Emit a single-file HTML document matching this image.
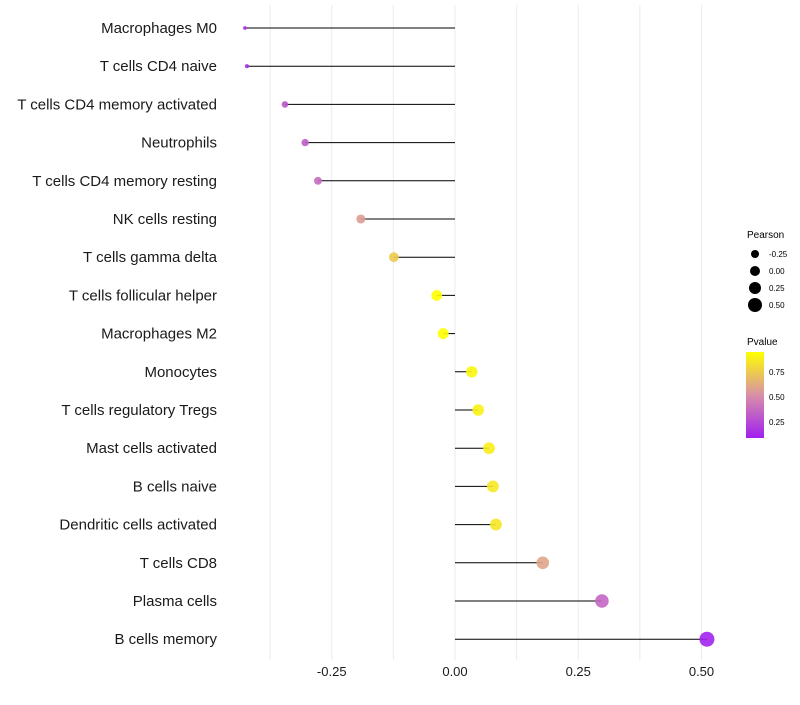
<!DOCTYPE html>
<html><head><meta charset="utf-8"><style>
body{margin:0;background:#fff;font-family:"Liberation Sans",sans-serif}
svg text{font-family:"Liberation Sans",sans-serif}
</style></head><body>
<svg id="chart" width="800" height="700" xmlns="http://www.w3.org/2000/svg">
<defs><linearGradient id="pg" x1="0" y1="1" x2="0" y2="0">
<stop offset="0" stop-color="#a020f0"/><stop offset="0.5" stop-color="#d890a8"/><stop offset="1" stop-color="#ffff00"/></linearGradient></defs>
<g id="grid"></g>
<g id="marks"></g>
<g id="ylabels"></g>
<g id="xlabels"></g>
<g>
<text x="747" y="238" font-size="10" fill="#000">Pearson</text>
<circle cx="755" cy="254" r="4" fill="#000"/><text x="769" y="257" font-size="8">-0.25</text>
<circle cx="755" cy="271" r="5" fill="#000"/><text x="769" y="274" font-size="8">0.00</text>
<circle cx="755" cy="288" r="6" fill="#000"/><text x="769" y="291" font-size="8">0.25</text>
<circle cx="755" cy="305" r="7" fill="#000"/><text x="769" y="308" font-size="8">0.50</text>
</g>
<g>
<text x="747" y="345" font-size="10">Pvalue</text>
<rect x="746" y="352" width="18" height="86" fill="url(#pg)"/>
<text x="769" y="375" font-size="8">0.75</text>
<text x="769" y="400" font-size="8">0.50</text>
<text x="769" y="425" font-size="8">0.25</text>
</g>
</svg>
<script>
const categories=["Macrophages M0","T cells CD4 naive","T cells CD4 memory activated","Neutrophils","T cells CD4 memory resting","NK cells resting","T cells gamma delta","T cells follicular helper","Macrophages M2","Monocytes","T cells regulatory  Tregs ","Mast cells activated","B cells naive","Dendritic cells activated","T cells CD8","Plasma cells","B cells memory"];
const pearson=[-0.426,-0.422,-0.345,-0.304,-0.278,-0.191,-0.124,-0.037,-0.024,0.034,0.047,0.069,0.077,0.083,0.178,0.298,0.511];
const pvalue=[0.15,0.15,0.3,0.33,0.38,0.57,0.75,0.95,0.95,0.92,0.9,0.88,0.86,0.85,0.6,0.36,0.1];
const xTicks=[-0.25,0,0.25,0.5];
const xTickLabels=["-0.25","0.00","0.25","0.50"];
const NS="http://www.w3.org/2000/svg";
const xs=v=>455+v*493;
const ys=i=>28+i*38.2;
function mk(t,a,p){const e=document.createElementNS(NS,t);for(const k in a)e.setAttribute(k,a[k]);p.appendChild(e);return e;}
function lerp(a,b,t){return a.map((v,i)=>Math.round(v+(b[i]-v)*t));}
function col(p){const t=Math.max(0,Math.min(1,(p-0.09)/0.86));const A=[160,32,240],B=[216,144,168],C=[255,255,0];
const c=t<0.5?lerp(A,B,t*2):lerp(B,C,(t-0.5)*2);return `rgb(${c})`;}
const grid=document.getElementById('grid'),marks=document.getElementById('marks'),yl=document.getElementById('ylabels'),xl=document.getElementById('xlabels');
for(let k=-3;k<=4;k++){const v=k*0.125;const g=mk('line',{x1:xs(v),x2:xs(v),y1:5,y2:660,stroke:'#ebebeb','stroke-width':1},grid);

}
categories.forEach((c,i)=>{const y=ys(i);
const ln=mk('line',{x1:xs(0),x2:xs(pearson[i]),y1:y,y2:y,stroke:'#000','stroke-width':1},marks);


const r=1.5+Math.sqrt(Math.max(0,pearson[i]+0.43)/0.94)*6;
const cc=mk('circle',{cx:xs(pearson[i]),cy:y,r:r,fill:col(pvalue[i]),opacity:0.9},marks);


const t=mk('text',{x:217,y:y+5,'text-anchor':'end','font-size':'15',fill:'#1a1a1a'},yl);t.textContent=c;

});
xTicks.forEach((v,i)=>{const t=mk('text',{x:xs(v),y:676,'text-anchor':'middle','font-size':'13',fill:'#1a1a1a'},xl);t.textContent=xTickLabels[i];

});
</script>
</body></html>
